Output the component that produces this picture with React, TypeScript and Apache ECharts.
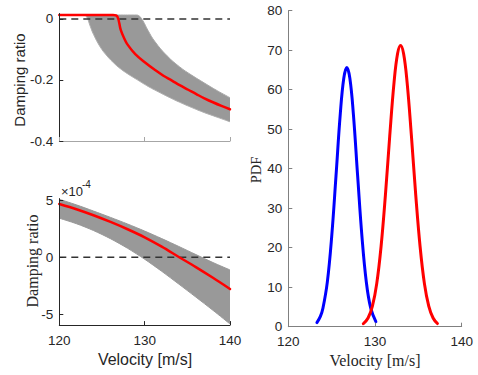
import React, { useEffect, useRef } from 'react';
import * as echarts from 'echarts';

// ---------- data ----------
const X_TICKS = [120, 130, 140];
const TOP_Y_TICKS = [-0.4, -0.2, 0];
const BOT_Y_TICKS = [-5, 0, 5];
const PDF_Y_TICKS = [0, 10, 20, 30, 40, 50, 60, 70, 80];

// top-left: envelope of the family of grey damping-ratio curves
const TOP_V = [120, 122.8, 123.2, 123.6, 124.0, 124.8, 125.5, 126.3, 127.2, 128.3, 129.0, 129.4, 129.8, 130.4, 131.2, 132.6, 134.1, 135.5, 137.0, 138.5, 140];
const TOP_LOWER = [0.013, 0.013, 0.007, -0.022, -0.05, -0.092, -0.118, -0.142, -0.164, -0.185, -0.197, -0.204, -0.211, -0.221, -0.233, -0.253, -0.273, -0.29, -0.307, -0.322, -0.337];
const TOP_UPPER = [0.013, 0.013, 0.013, 0.013, 0.013, 0.013, 0.013, 0.013, 0.013, 0.013, 0.013, 0.009, -0.006, -0.038, -0.074, -0.12, -0.157, -0.184, -0.21, -0.235, -0.258];
const TOP_RED_V = [120, 126.3, 126.8, 127.2, 127.6, 128.0, 128.9, 130.2, 131.2, 132.2, 133.2, 134.1, 135.1, 136.1, 137.0, 138.0, 139.0, 140];
const TOP_RED = [0.013, 0.013, 0.008, -0.036, -0.063, -0.084, -0.115, -0.146, -0.167, -0.186, -0.202, -0.217, -0.232, -0.247, -0.26, -0.273, -0.285, -0.296];

// bottom-left: values in units of 1e-4
const BOT_V = [120, 122, 124, 126, 128, 130, 132, 134, 136, 138, 140];
const BOT_LOWER = [3.43, 2.95, 2.35, 1.63, 0.79, -0.17, -1.23, -2.35, -3.49, -4.65, -5.85];
const BOT_UPPER = [5.09, 4.6, 4.06, 3.5, 2.92, 2.3, 1.64, 0.95, 0.24, -0.46, -1.11];
const BOT_RED = [4.68, 4.22, 3.69, 3.1, 2.46, 1.75, 0.93, 0.03, -0.86, -1.8, -2.78];

// right: PDFs of the flutter speed
const PDF_BLUE_V = [123.3, 123.7, 124.0, 124.5, 125.0, 125.5, 126.0, 126.4, 126.75, 127.1, 127.5, 128.0, 128.5, 129.0, 129.5, 130.1];
const PDF_BLUE = [1.05, 2.6, 4.75, 11.3, 22.7, 38.1, 54, 62.9, 65.6, 62.9, 54, 38.1, 22.7, 11.3, 4.75, 1.3];
const PDF_RED_V = [128.65, 129.2, 129.7, 130.2, 130.7, 131.2, 131.7, 132.2, 132.6, 132.95, 133.3, 133.7, 134.2, 134.7, 135.2, 135.7, 136.2, 136.7, 137.2];
const PDF_RED = [0.75, 2.2, 5.2, 10.9, 20.3, 33.3, 48.3, 61.9, 69.1, 71.2, 69.1, 61.9, 48.3, 33.3, 20.3, 10.9, 5.2, 2.2, 0.8];

// ---------- helpers ----------
const zip = (xs: number[], ys: number[]) => xs.map((x, i) => [x, ys[i]]);
const SANS = '"Liberation Sans", Arial, Helvetica, sans-serif';
const SERIF = '"Liberation Serif", "Times New Roman", Times, serif';
const DARK = '#262626';
const GREY = '#999999';

function xAxisDef(gridIndex: number, showLabels: boolean, lineColor: string) {
  return {
    type: 'value', gridIndex, min: 120, max: 140, z: 10,
    axisLine: { show: true, onZero: false, lineStyle: { color: lineColor, width: 1 } },
    axisTick: { show: true, inside: true, length: 4, customValues: X_TICKS, lineStyle: { color: lineColor } },
    axisLabel: { show: showLabels, customValues: X_TICKS, color: DARK, fontFamily: SANS, fontSize: 13.5, margin: 8 },
    splitLine: { show: false },
  };
}
function yAxisDef(gridIndex: number, min: number, max: number, ticks: number[], lineColor: string) {
  return {
    type: 'value', gridIndex, min, max, z: 10,
    axisLine: { show: true, onZero: false, lineStyle: { color: lineColor, width: 1 } },
    axisTick: { show: true, inside: true, length: 4, customValues: ticks, lineStyle: { color: lineColor } },
    axisLabel: { show: true, customValues: ticks, color: DARK, fontFamily: SANS, fontSize: 13.5, margin: 6 },
    splitLine: { show: false },
  };
}
function areaLine(xi: number, pts: number[][], fill: string, edge: string, smooth: number) {
  return {
    type: 'line', xAxisIndex: xi, yAxisIndex: xi, data: pts, smooth,
    showSymbol: false, symbol: 'none', silent: true,
    lineStyle: { color: edge, width: 1 },
    areaStyle: { color: fill, opacity: 1, origin: 'start' },
  };
}
function dashedZero(xi: number) {
  return {
    type: 'line', xAxisIndex: xi, yAxisIndex: xi, data: [[120, 0], [140, 0]],
    showSymbol: false, symbol: 'none', silent: true,
    lineStyle: { color: '#333333', width: 1.5, type: [7, 5] },
  };
}
function curve(xi: number, pts: number[][], color: string, width: number, smooth: number) {
  return {
    type: 'line', xAxisIndex: xi, yAxisIndex: xi, data: pts, smooth,
    showSymbol: false, symbol: 'none', silent: true,
    lineStyle: { color, width, cap: 'round', join: 'round' },
  };
}

export default function App() {
  const ref = useRef<HTMLDivElement>(null);
  useEffect(() => {
    if (!ref.current) return;
    const chart = echarts.init(ref.current, undefined, { renderer: 'svg' });
    chart.setOption({
      animation: false,
      backgroundColor: '#ffffff',
      grid: [
        { left: 59.3, top: 13.5, width: 170.7, height: 127.5, outerBoundsMode: 'none', containLabel: false },
        { left: 59.3, top: 198.6, width: 170.7, height: 126.5, outerBoundsMode: 'none', containLabel: false },
        { left: 288.3, top: 10.7, width: 173.4, height: 316, outerBoundsMode: 'none', containLabel: false },
      ],
      xAxis: [
        xAxisDef(0, false, '#a6a6a6'),
        xAxisDef(1, true, DARK),
        xAxisDef(2, true, '#808080'),
      ],
      yAxis: [
        yAxisDef(0, -0.4, 0.018, TOP_Y_TICKS, DARK),
        yAxisDef(1, -5.95, 5.15, BOT_Y_TICKS, DARK),
        yAxisDef(2, 0, 80, PDF_Y_TICKS, '#808080'),
      ],
      series: [
        areaLine(0, zip(TOP_V, TOP_UPPER), GREY, '#a8a8a8', 0.45),
        areaLine(0, zip(TOP_V, TOP_LOWER), '#ffffff', '#b0b0b0', 0.45),
        dashedZero(0),
        curve(0, zip(TOP_RED_V, TOP_RED), '#ff0000', 2.5, 0.4),
        areaLine(1, zip(BOT_V, BOT_UPPER), GREY, GREY, 0.3),
        areaLine(1, zip(BOT_V, BOT_LOWER), '#ffffff', GREY, 0.3),
        dashedZero(1),
        curve(1, zip(BOT_V, BOT_RED), '#ff0000', 2.5, 0.3),
        curve(2, zip(PDF_BLUE_V, PDF_BLUE), '#0000ff', 3, 0.4),
        curve(2, zip(PDF_RED_V, PDF_RED), '#ff0000', 3, 0.4),
      ],
      graphic: [
        { type: 'text', x: 19, y: 80, rotation: Math.PI / 2, style: { text: 'Damping ratio', fill: DARK, font: `15px ${SANS}`, textAlign: 'center', textVerticalAlign: 'middle' } },
        { type: 'text', x: 32, y: 261, rotation: Math.PI / 2, style: { text: 'Damping ratio', fill: DARK, font: `16px ${SERIF}`, textAlign: 'center', textVerticalAlign: 'middle' } },
        { type: 'text', x: 145, y: 359, style: { text: 'Velocity [m/s]', fill: DARK, font: `16px ${SANS}`, textAlign: 'center', textVerticalAlign: 'middle' } },
        { type: 'text', x: 256, y: 170, rotation: Math.PI / 2, style: { text: 'PDF', fill: DARK, font: `14.5px ${SERIF}`, textAlign: 'center', textVerticalAlign: 'middle' } },
        { type: 'text', x: 375, y: 360, style: { text: 'Velocity [m/s]', fill: DARK, font: `16px ${SERIF}`, textAlign: 'center', textVerticalAlign: 'middle' } },
        { type: 'text', x: 61, y: 191, style: { text: '×10', fill: DARK, font: `13px ${SANS}`, textAlign: 'left', textVerticalAlign: 'middle' } },
        { type: 'text', x: 82, y: 184, style: { text: '-4', fill: DARK, font: `10px ${SANS}`, textAlign: 'left', textVerticalAlign: 'middle' } },
      ],
    });
    return () => chart.dispose();
  }, []);
  return <div ref={ref} style={{ position: 'absolute', left: 0, top: 0, width: 478, height: 375 }} />;
}
